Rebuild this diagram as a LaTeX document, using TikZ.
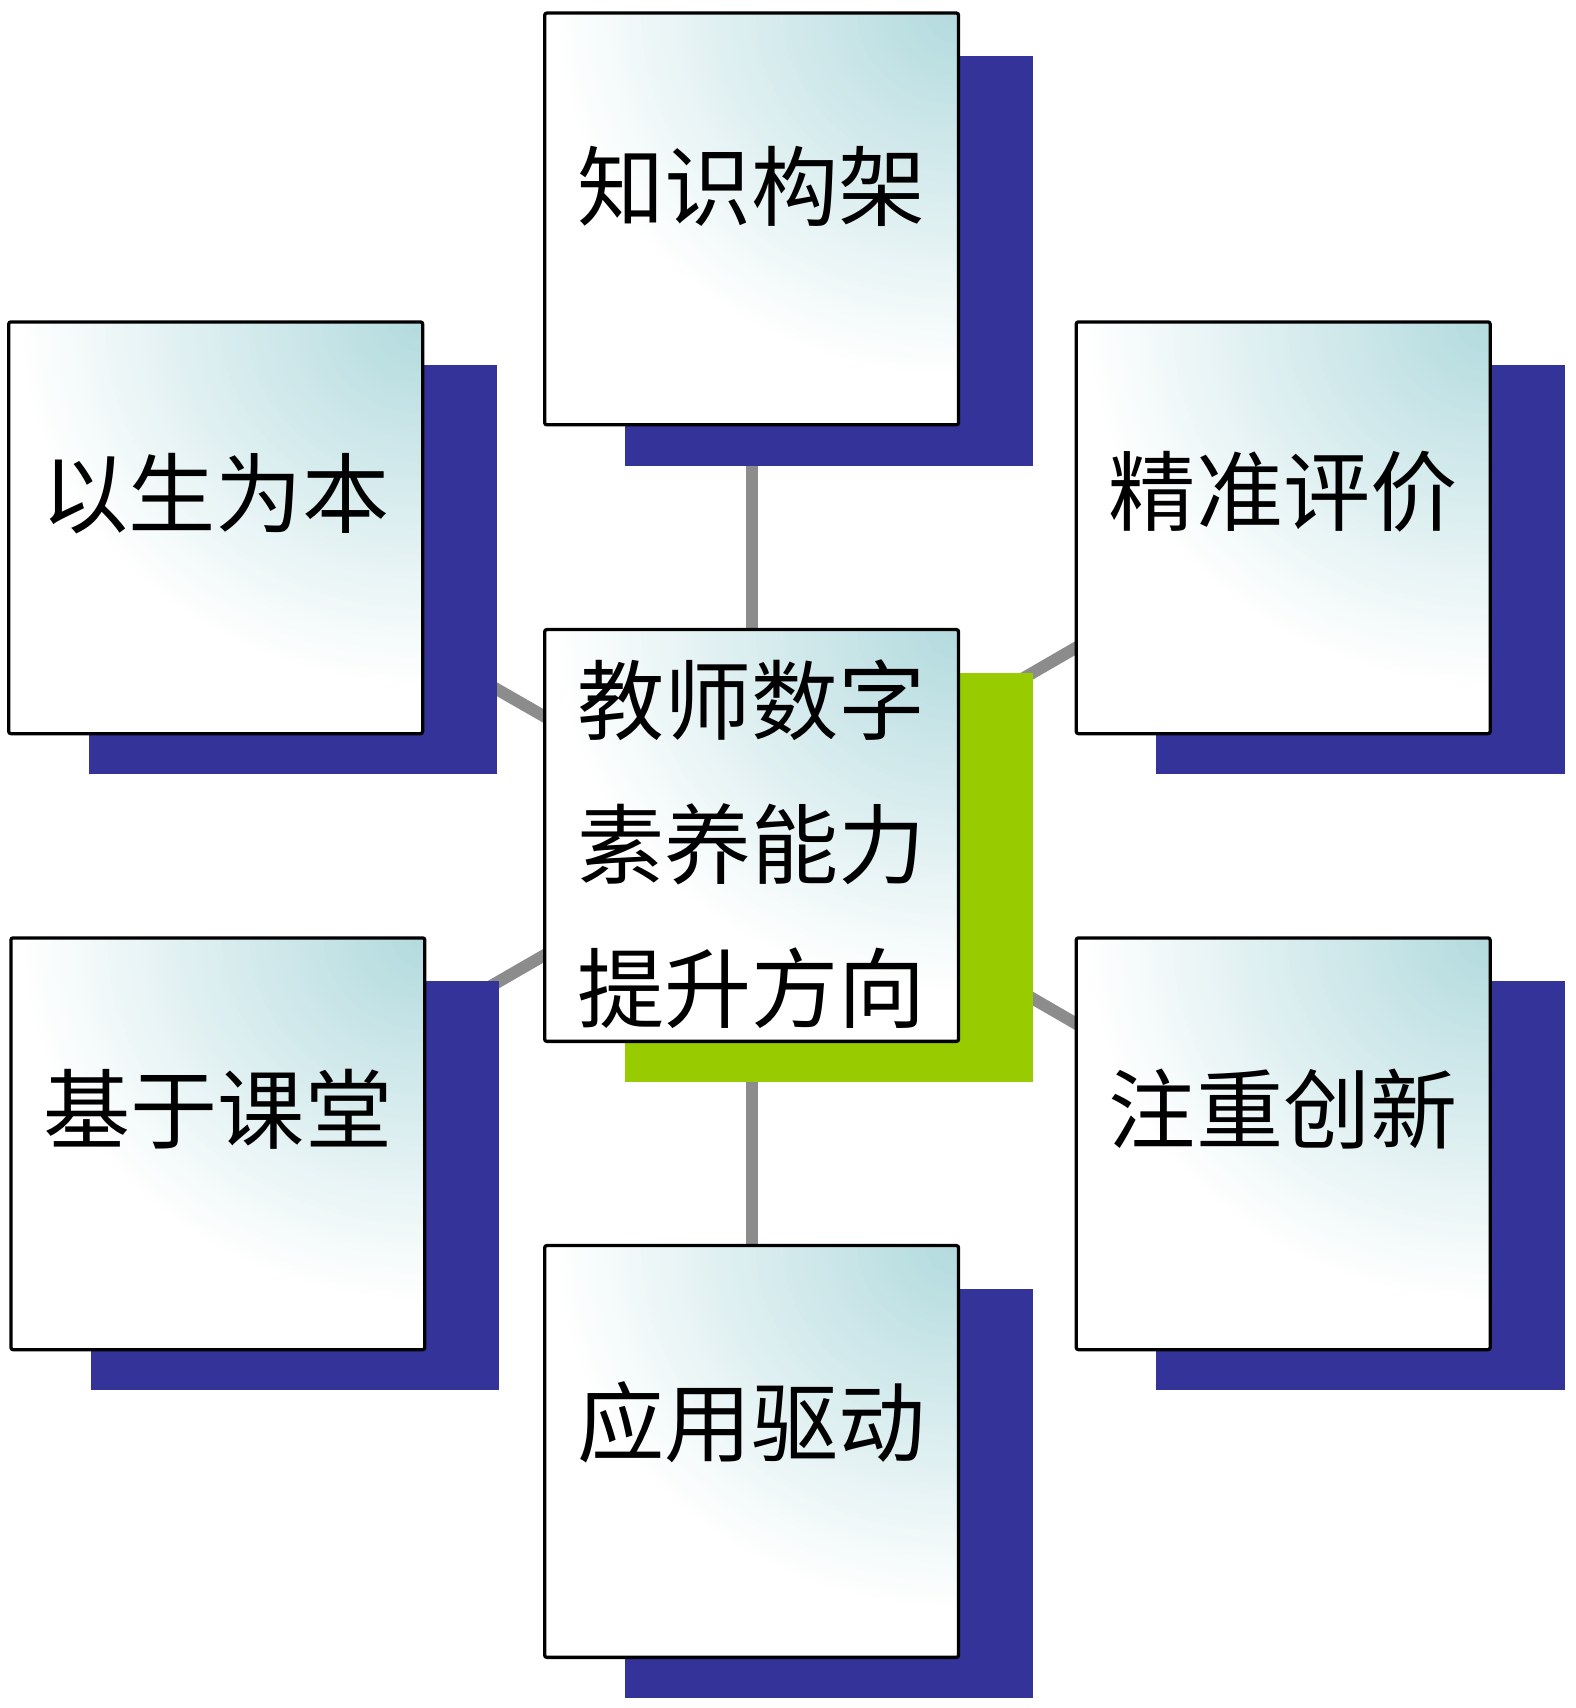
\documentclass[tikz,border=0pt]{standalone}
\usepackage{fontspec}
\setmainfont{Noto Sans CJK SC}
\usetikzlibrary{calc}
\pgfdeclarelayer{bg}
\pgfdeclarelayer{mid}
\pgfsetlayers{bg,mid,main}
\definecolor{shblue}{RGB}{51,51,153}
\definecolor{shgreen}{RGB}{153,204,0}
\definecolor{glow}{RGB}{178,218,222}
\definecolor{conngray}{RGB}{140,140,140}
\tikzset{
  box/.style={draw=black, line width=3pt, rounded corners=2pt,
    minimum width=380pt, minimum height=378pt, inner sep=0pt, fill=white,
    path picture={
      \foreach \i in {60,59,...,1}{
        \pgfmathsetmacro\pct{100*(1-\i/60)}
        \fill[glow!\pct!white] (path picture bounding box.north east)
          ellipse [x radius={6.2*\i pt}, y radius={5.6*\i pt}];
      }}},
  lbl/.style={font=\fontsize{80}{132}\selectfont, align=center, inner sep=0pt},
  conn/.style={draw=conngray, line width=11pt},
}
\begin{document}
\begin{tikzpicture}[x=1pt,y=-1pt]
\useasboundingbox (0,0) rectangle (1446,1568);
% boxes
\node[box, label={[lbl,yshift=30pt]center:知识构架}] (top) at (690,201) {};
\node[box, label={[lbl,yshift=31pt]center:以生为本}] (ul) at (198,484.5) {};
\node[box, label={[lbl,yshift=33pt]center:精准评价}] (ur) at (1178,484.5) {};
\node[box, label={[lbl,yshift=-8pt]center:教师数字\\素养能力\\提升方向}] (cen) at (690,767) {};
\node[box, label={[lbl,yshift=32pt]center:基于课堂}] (ll) at (200,1050) {};
\node[box, label={[lbl,yshift=32pt]center:注重创新}] (lr) at (1178,1050) {};
\node[box, label={[lbl,yshift=27pt]center:应用驱动}] (bot) at (690,1332.5) {};
% shadows
\begin{pgfonlayer}{mid}
  \foreach \n in {top,ul,ur,ll,lr,bot}{
    \fill[shblue] ($(\n.north west)+(75,41)$) rectangle ($(\n.south east)+(67,36)$);
  }
  \fill[shgreen] ($(cen.north west)+(75,41)$) rectangle ($(cen.south east)+(67,36)$);
\end{pgfonlayer}
% connectors
\begin{pgfonlayer}{bg}
  \fill[white] (0,0) rectangle (1446,1568);
  \draw[conn] (cen.center) -- (top.center);
  \draw[conn] (cen.center) -- (bot.center);
  \draw[conn] (cen.center) -- (ul.center);
  \draw[conn] (cen.center) -- (ur.center);
  \draw[conn] (cen.center) -- (ll.center);
  \draw[conn] (cen.center) -- (lr.center);
\end{pgfonlayer}
\end{tikzpicture}
\end{document}
